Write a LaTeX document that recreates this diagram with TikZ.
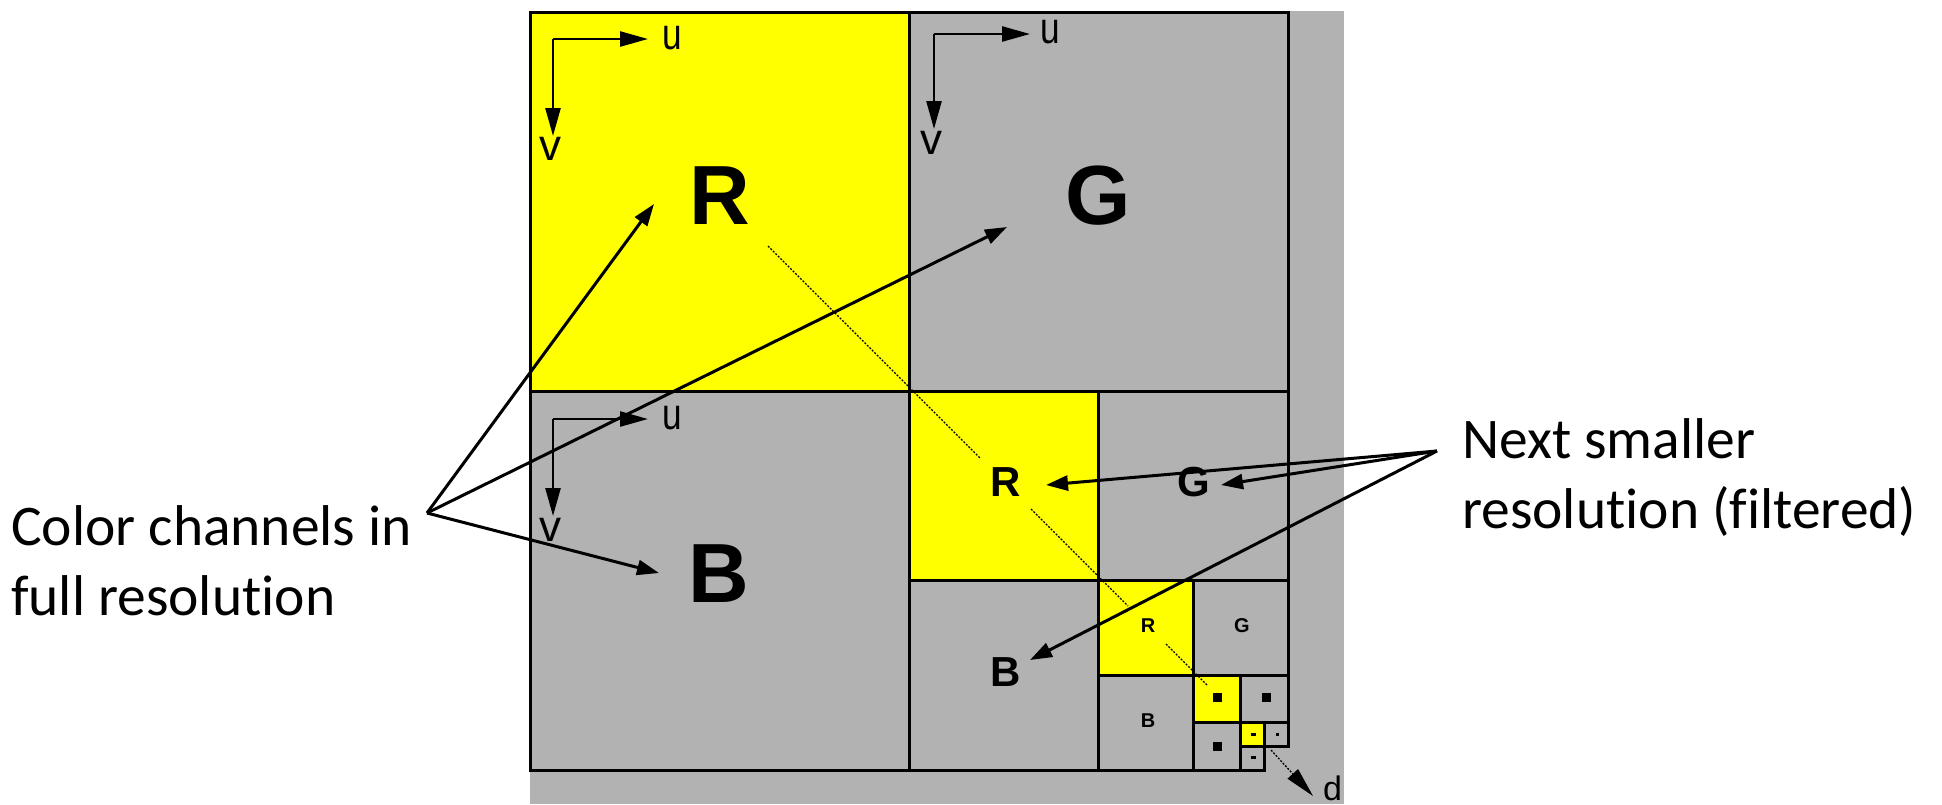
\documentclass[tikz,border=0pt]{standalone}
\usepackage{fontspec}
\newfontfamily\calib[Ligatures=NoCommon]{Carlito}
\newfontfamily\pix{Liberation Sans}
\usetikzlibrary{arrows.meta}
\definecolor{ylw}{RGB}{255,255,0}
\definecolor{gbg}{RGB}{178,178,178}
\begin{document}
\begin{tikzpicture}[x=1pt,y=-1pt,
  cell/.style={draw=black,line width=3pt},
  rcell/.style={cell,fill=ylw},
  gcell/.style={cell,fill=gbg},
  bigl/.style={font=\pix\bfseries\fontsize{84}{84}\selectfont,inner sep=0pt},
  midl/.style={font=\pix\bfseries\fontsize{42}{42}\selectfont,inner sep=0pt},
  smalll/.style={font=\pix\bfseries\fontsize{20}{20}\selectfont,inner sep=0pt},
  axlbl/.style={font=\pix\fontsize{44}{44}\selectfont,inner sep=0pt},
  axarrow/.style={line width=2.5pt,-{Triangle[length=28pt,width=15pt]}},
  callout/.style={line width=3pt,-{Triangle[length=22pt,width=15pt]}},
  lbl/.style={font=\calib\fontsize{57.5}{70}\selectfont,inner sep=0pt,anchor=base west},
  diag/.style={line width=1.3pt,dash pattern=on 2pt off 1.5pt},
  blob/.style={fill=black}
]
\useasboundingbox (0,0) rectangle (1942,804);
% background
\fill[gbg] (530,11) rectangle (1344,804);
% level 1
\draw[rcell] (530,12) rectangle (909,391);
\draw[gcell] (909,12) rectangle (1288,391);
\draw[gcell] (530,391) rectangle (909,770);
% level 2
\draw[rcell] (909,391) rectangle (1098.5,580.5);
\draw[gcell] (1098.5,391) rectangle (1288,580.5);
\draw[gcell] (909,580.5) rectangle (1098.5,770);
% level 3
\draw[rcell] (1098.5,580.5) rectangle (1193.25,675.25);
\draw[gcell] (1193.25,580.5) rectangle (1288,675.25);
\draw[gcell] (1098.5,675.25) rectangle (1193.25,770);
% level 4
\draw[rcell] (1193.25,675.25) rectangle (1240.6,722.6);
\draw[gcell] (1240.6,675.25) rectangle (1288,722.6);
\draw[gcell] (1193.25,722.6) rectangle (1240.6,770);
% level 5
\draw[rcell] (1240.6,722.6) rectangle (1264.3,746.3);
\draw[gcell] (1264.3,722.6) rectangle (1288,746.3);
\draw[gcell] (1240.6,746.3) rectangle (1264.3,770);

% axes
\coordinate (ca) at (553,39);
\coordinate (cau) at (648,39);
\coordinate (cav) at (553,136);
\node[axlbl] (ua) at (672,38) {\scalebox{0.8}[1]{u}};
\node[axlbl] (va) at (550,149) {v};
\draw[axarrow] (ca) -- (cau);
\draw[axarrow] (ca) -- (cav);

\coordinate (cb) at (934,34);
\coordinate (cbu) at (1030,34);
\coordinate (cbv) at (934,129);
\node[axlbl] (ub) at (1050,32) {\scalebox{0.8}[1]{u}};
\node[axlbl] (vb) at (931,143) {v};
\draw[axarrow] (cb) -- (cbu);
\draw[axarrow] (cb) -- (cbv);

\coordinate (cc) at (553,419);
\coordinate (ccu) at (648,419);
\coordinate (ccv) at (553,516);
\node[axlbl] (uc) at (672,418) {\scalebox{0.8}[1]{u}};
\node[axlbl] (vc) at (550,530) {v};
\draw[axarrow] (cc) -- (ccu);
\draw[axarrow] (cc) -- (ccv);

% channel letters
\node[bigl] (R1) at (720,196) {R};
\node[bigl] (G1) at (1098,196) {G};
\node[bigl] (B1) at (719,574) {B};
\node[midl] (R2) at (1006,482) {R};
\node[midl] (G2) at (1194,482) {G};
\node[midl] (B2) at (1006,672) {B};
\node[smalll] (R3) at (1148,626) {R};
\node[smalll] (G3) at (1242,626) {G};
\node[smalll] (B3) at (1148,721) {B};
% tiny channel marks
\fill[blob] (1213,693) rectangle (1222,702);
\fill[blob] (1262,693) rectangle (1271,702);
\fill[blob] (1213,742) rectangle (1222,751);
\fill[blob] (1251,733) rectangle (1256,736);
\fill[blob] (1276,733) rectangle (1279,736);
\fill[blob] (1251,756) rectangle (1256,759);

% diagonal
\draw[diag] (768,246) -- (980,458);
\draw[diag] (1031,509) -- (1128,606);
\draw[diag] (1166,644) -- (1208,686);
\coordinate (d0) at (1271,750);
\coordinate (d1) at (1313,796);
\draw[diag,-{Triangle[length=30pt,width=14pt]}] (d0) -- (d1);
\node[font=\pix\fontsize{34}{34}\selectfont,inner sep=0pt,anchor=base west] (dl) at (1323,800) {d};

% labels
\node[lbl] (l1) at (11,545) {Color channels in};
\node[lbl] (l2) at (11,615) {full resolution};
\node[lbl] (r1) at (1462,458) {Next smaller};
\node[lbl] (r2) at (1462,528) {resolution (filtered)};

% callouts
\coordinate (lc) at (427,513);
\coordinate (tR1) at (654,204);
\coordinate (tG1) at (1007,227);
\coordinate (tB1) at (659,573);
\draw[callout] (lc) -- (tR1);
\draw[callout] (lc) -- (tG1);
\draw[callout] (lc) -- (tB1);
\coordinate (rc) at (1437,451);
\coordinate (tR2) at (1046,485);
\coordinate (tG2) at (1221,485);
\coordinate (tB2) at (1030,660);
\draw[callout] (rc) -- (tR2);
\draw[callout] (rc) -- (tG2);
\draw[callout] (rc) -- (tB2);
\end{tikzpicture}
\end{document}
